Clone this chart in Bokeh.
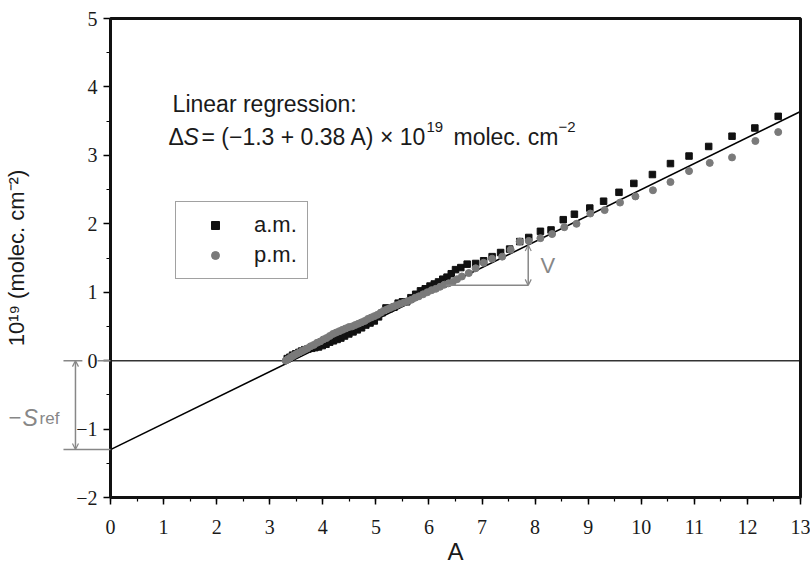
from bokeh.plotting import figure
from bokeh.models import (Legend, LegendItem, Arrow, OpenHead, Label, LinearAxis,
                          SingleIntervalTicker, Range1d, ColumnDataSource, BoxAnnotation)
from bokeh.embed import file_html
from bokeh.resources import INLINE

# ---------------- data ----------------
am_x = [3.33, 3.38, 3.43, 3.49, 3.55, 3.60, 3.66, 3.72, 3.79, 3.85,
        3.92, 3.99, 4.06, 4.13, 4.20, 4.27, 4.34, 4.41, 4.49, 4.57,
        4.65, 4.73, 4.81, 4.89, 4.97, 5.05, 5.12, 5.19, 5.26, 5.34,
        5.42, 5.50, 5.58, 5.66, 5.75, 5.84, 5.93, 6.02, 6.10, 6.18,
        6.26, 6.34, 6.42, 6.50, 6.60, 6.72, 6.88, 7.03, 7.19, 7.35,
        7.52, 7.71, 7.88, 8.10, 8.30, 8.53, 8.74, 9.03, 9.29, 9.58,
        9.86, 10.21, 10.55, 10.90, 11.27, 11.71, 12.14, 12.58]
am_y = [0.03, 0.05, 0.08, 0.10, 0.12, 0.14, 0.16, 0.17, 0.18, 0.19,
        0.20, 0.22, 0.24, 0.27, 0.29, 0.31, 0.33, 0.36, 0.39, 0.42,
        0.45, 0.48, 0.52, 0.55, 0.58, 0.64, 0.70, 0.77, 0.76, 0.78,
        0.84, 0.86, 0.86, 0.92, 0.97, 1.02, 1.05, 1.09, 1.12, 1.15,
        1.19, 1.22, 1.27, 1.33, 1.36, 1.41, 1.42, 1.46, 1.52, 1.58,
        1.63, 1.74, 1.80, 1.89, 1.91, 2.06, 2.14, 2.23, 2.33, 2.46,
        2.59, 2.72, 2.88, 2.99, 3.13, 3.28, 3.40, 3.57]

pm_x = [3.30, 3.34, 3.38, 3.42, 3.46, 3.51, 3.56, 3.61, 3.66, 3.71,
        3.77, 3.83, 3.89, 3.95, 4.01, 4.07, 4.13, 4.19, 4.25, 4.31,
        4.37, 4.43, 4.49, 4.55, 4.61, 4.67, 4.73, 4.79, 4.85, 4.91,
        4.97, 5.03, 5.09, 5.15, 5.21, 5.27, 5.33, 5.39, 5.46, 5.53,
        5.60, 5.67, 5.74, 5.81, 5.89, 5.97, 6.05, 6.13, 6.21, 6.29,
        6.37, 6.45, 6.53, 6.62, 6.75, 6.88, 7.03, 7.19, 7.38, 7.54,
        7.71, 7.88, 8.10, 8.32, 8.55, 8.78, 9.04, 9.31, 9.60, 9.89,
        10.22, 10.55, 10.90, 11.29, 11.71, 12.15, 12.58]
pm_y = [0.00, 0.02, 0.04, 0.06, 0.08, 0.10, 0.12, 0.14, 0.16, 0.18,
        0.21, 0.23, 0.26, 0.28, 0.31, 0.33, 0.36, 0.39, 0.41, 0.43,
        0.45, 0.47, 0.49, 0.50, 0.52, 0.54, 0.56, 0.58, 0.61, 0.63,
        0.65, 0.67, 0.70, 0.73, 0.75, 0.77, 0.79, 0.81, 0.83, 0.85,
        0.87, 0.89, 0.92, 0.94, 0.97, 1.00, 1.03, 1.05, 1.08, 1.11,
        1.13, 1.15, 1.19, 1.23, 1.28, 1.35, 1.43, 1.49, 1.52, 1.62,
        1.74, 1.75, 1.79, 1.85, 1.95, 2.00, 2.15, 2.20, 2.31, 2.40,
        2.49, 2.61, 2.77, 2.89, 2.97, 3.21, 3.34]

# regression: dS = (-1.3 + 0.38 A) x 1e19
reg_intercept = -1.3
reg_slope = 0.38
reg_x = [0, 13]
reg_y = [reg_intercept + reg_slope * v for v in reg_x]

x_lo, x_hi = 0, 13
y_lo, y_hi = -2, 5
y_tick_labels = {-2: "\u22122", -1: "\u22121"}

FONT = "Liberation Sans"
TICKFONT = "Liberation Sans Narrow"
GRAY = "#878787"
TXT = "#1a1a1a"

# layout: frame covers the full canvas; axes are pinned at the data box edges
W, H = 810, 568
FL, FR, FT, FB = 110, 800, 18, 497          # pixel box of the data area
sx = (FR - FL) / (x_hi - x_lo)
sy = (FB - FT) / (y_hi - y_lo)
xr = Range1d(x_lo - FL / sx, x_hi + (W - FR) / sx)
yr = Range1d(y_lo - (H - FB) / sy, y_hi + FT / sy)

p = figure(width=W, height=H, x_range=xr, y_range=yr,
           output_backend="svg", toolbar_location=None,
           x_axis_location=None, y_axis_location=None,
           min_border=0, min_border_left=0, min_border_right=0,
           min_border_top=0, min_border_bottom=0)
p.grid.visible = False
p.outline_line_color = None
p.background_fill_color = "white"
p.border_fill_color = "white"


def style_axis(ax):
    ax.axis_line_color = None
    ax.major_tick_line_color = "black"
    ax.minor_tick_line_color = "black"
    ax.major_tick_line_width = 1.5
    ax.minor_tick_line_width = 1.2
    ax.major_tick_in = 0
    ax.major_tick_out = 7
    ax.minor_tick_in = 0
    ax.minor_tick_out = 4
    ax.major_label_text_font = TICKFONT
    ax.major_label_text_font_size = "20px"
    ax.major_label_text_color = TXT
    ax.axis_label_text_font = FONT
    ax.axis_label_text_font_style = "normal"
    ax.axis_label_text_color = TXT


xaxis = LinearAxis(fixed_location=y_lo, bounds=(x_lo, x_hi),
                   ticker=SingleIntervalTicker(interval=1, num_minor_ticks=2),
                   axis_label="A")
style_axis(xaxis)
xaxis.major_label_standoff = 15
xaxis.axis_label_text_font_size = "24px"
xaxis.axis_label_standoff = 1
p.add_layout(xaxis, "below")

yaxis = LinearAxis(fixed_location=x_lo, bounds=(y_lo, y_hi),
                   ticker=SingleIntervalTicker(interval=1, num_minor_ticks=2),
                   axis_label="10\u00b9\u2079 (molec. cm\u207b\u00b2)")
style_axis(yaxis)
yaxis.major_label_overrides = y_tick_labels
yaxis.major_label_standoff = 6
yaxis.axis_label_text_font_size = "22px"
yaxis.axis_label_standoff = 44
p.add_layout(yaxis, "left")

# frame box along the data-area edges
p.add_layout(BoxAnnotation(left=x_lo, right=x_hi, bottom=y_lo, top=y_hi,
                           fill_alpha=0, fill_color=None,
                           line_color="#111111", line_width=3, line_alpha=1.0))

# zero line inside the box
p.line([x_lo, x_hi], [0, 0], line_color="#333333", line_width=1.5)

# regression line
p.line(reg_x, reg_y, line_color="black", line_width=1.6)

# data
pm_src = ColumnDataSource(dict(x=pm_x, y=pm_y))
am_src = ColumnDataSource(dict(x=am_x, y=am_y))
r_am = p.scatter("x", "y", source=am_src, marker="square", size=6.5,
                 fill_color="#111111", line_color="#111111")
r_pm = p.scatter("x", "y", source=pm_src, marker="circle", size=7,
                 fill_color="#7a7a7a", line_color="#7a7a7a")

legend = Legend(items=[LegendItem(label="a.m.", renderers=[r_am]),
                       LegendItem(label="p.m.", renderers=[r_pm])],
                location=(175, H - 279), padding=10, spacing=4,
                glyph_width=58, glyph_height=20, label_height=20,
                label_standoff=10, label_text_font=FONT,
                label_text_font_size="22px", label_text_color=TXT,
                border_line_color="#444444", border_line_width=1.5,
                background_fill_alpha=1.0)
p.add_layout(legend)

# V triangle
v_x = 7.87
v_y0 = 1.10
v_x0 = (v_y0 - reg_intercept) / reg_slope
v_y1 = reg_intercept + reg_slope * v_x
p.add_layout(Arrow(x_start=v_x0, y_start=v_y0, x_end=v_x, y_end=v_y0,
                   line_color=GRAY, line_width=1.5, end=None, start=None))
p.add_layout(Arrow(x_start=v_x, y_start=v_y0, x_end=v_x, y_end=v_y1,
                   line_color=GRAY, line_width=1.5,
                   start=OpenHead(size=6, line_color=GRAY, line_width=1.2),
                   end=OpenHead(size=6, line_color=GRAY, line_width=1.2)))
p.add_layout(Label(x=8.10, y=1.39, text="V", text_font=FONT, text_font_size="22px",
                   text_color=GRAY, text_baseline="middle"))

# -S_ref annotation (left of the y axis)
p.add_layout(Arrow(x_start=-0.886, y_start=0, x_end=-0.53, y_end=0,
                   line_color=GRAY, line_width=1.5, start=None, end=None))
p.add_layout(Arrow(x_start=-0.245, y_start=0, x_end=0, y_end=0,
                   line_color=GRAY, line_width=1.5, start=None, end=None))
p.add_layout(Arrow(x_start=-0.886, y_start=reg_intercept, x_end=0, y_end=reg_intercept,
                   line_color=GRAY, line_width=1.5, start=None, end=None))
p.add_layout(Arrow(x_start=-0.66, y_start=0, x_end=-0.66, y_end=reg_intercept,
                   line_color=GRAY, line_width=1.5,
                   start=OpenHead(size=6, line_color=GRAY, line_width=1.2),
                   end=OpenHead(size=6, line_color=GRAY, line_width=1.2)))
sref_x, sref_y = -1.92, -0.835
p.add_layout(Label(x=sref_x, y=sref_y, text="\u2212", text_font=FONT,
                   text_font_size="22px", text_color=GRAY, text_baseline="alphabetic"))
p.add_layout(Label(x=sref_x, y=sref_y, x_offset=14, text="S", text_font=FONT,
                   text_font_style="italic", text_font_size="23px",
                   text_color=GRAY, text_baseline="alphabetic"))
p.add_layout(Label(x=sref_x, y=sref_y, x_offset=31, y_offset=-1, text="ref",
                   text_font=FONT, text_font_size="17px", text_color=GRAY,
                   text_baseline="alphabetic"))

# regression text
p.add_layout(Label(x=1.17, y=3.756, text="Linear regression:", text_font=FONT,
                   text_font_size="23px", text_color=TXT, text_baseline="alphabetic"))
eq_x, eq_y = 1.093, 3.27
eq_parts = [
    ("\u0394", 0, 0, "23px", "normal"),
    ("S", 15, 0, "23px", "italic"),
    ("= (\u22121.3 + 0.38 A) \u00d7 10", 33, 0, "23px", "normal"),
    ("19", 258, 10, "15px", "normal"),
    ("molec. cm", 285, 0, "23px", "normal"),
    ("\u22122", 390, 10, "15px", "normal"),
]
for txt, dx, dy, fs, st in eq_parts:
    p.add_layout(Label(x=eq_x, y=eq_y, x_offset=dx, y_offset=dy, text=txt,
                       text_font=FONT, text_font_size=fs, text_font_style=st,
                       text_color=TXT, text_baseline="alphabetic"))

open("out.html", "w").write(file_html(p, INLINE))
